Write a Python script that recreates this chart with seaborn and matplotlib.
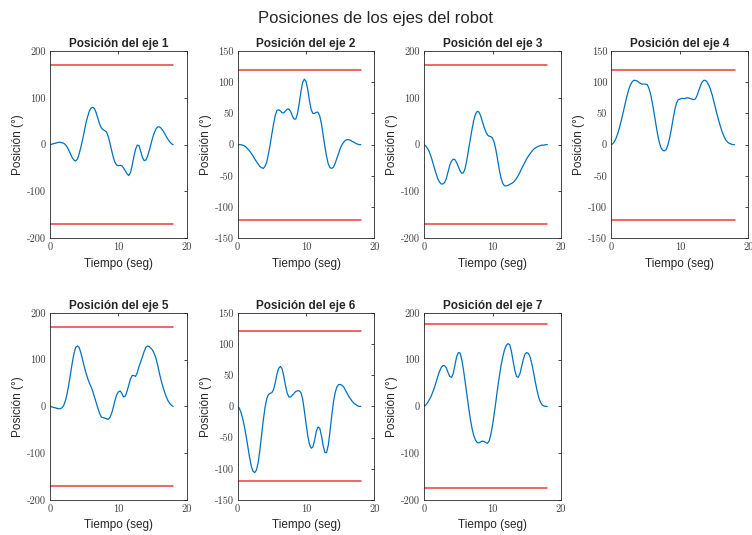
import numpy as np
import pandas as pd
import seaborn as sns
import matplotlib.pyplot as plt

# Tiempo (seg), muestreado cada 0.25 s
tiempo = np.arange(0, 18.25, 0.25)

eje1 = [0, 1, 2, 3, 4, 5, 5, 4, 3, 0, -5, -12, -20, -28, -33, -35, -31, -20, -6, 10,
        28, 46, 60, 72, 78, 80, 77, 68, 56, 44, 36, 32, 30, 27, 18, 4, -12, -27, -38, -44,
        -45, -44, -45, -50, -56, -62, -66, -60, -45, -26, -10, -1, -2, -14, -27, -34,
        -33, -25, -13, 1, 15, 26, 34, 38, 38, 35, 30, 24, 17, 11, 6, 2, 0]
eje2 = [0, 0, 0, -1, -2, -4, -7, -10, -14, -18, -23, -27, -31, -35, -37, -38,
        -35, -28, -15, 0, 17, 33, 47, 55, 56, 54, 51, 51, 54, 57, 57, 53, 46, 41, 41, 50,
        66, 85, 100, 105, 101, 88, 70, 56, 50, 50, 52, 52, 46, 33, 15, -3,
        -19, -31, -37, -38, -36, -30, -22, -14, -6, 0, 4, 7, 8, 8, 7, 5, 4, 2, 1, 0, 0]
eje3 = [0, -3, -8, -15, -25, -37, -50, -62, -73, -80, -84, -84, -81, -72, -58, -44,
        -35, -31, -32, -38, -47, -56, -61, -60, -50, -32, -10, 12, 33, 52, 65, 71,
        70, 62, 50, 38, 28, 21, 18, 17, 14, 4, -12, -33, -55, -72, -83, -88,
        -88, -87, -85, -83, -81, -77, -72, -66, -59, -51, -44, -37, -30, -24, -19, -14,
        -10, -7, -5, -3, -2, -1, -1, 0, 0]
eje4 = [0, 2, 6, 12, 20, 30, 41, 53, 65, 77, 87, 95, 100, 103, 103, 102,
        100, 98, 97, 97, 97, 96, 90, 80, 66, 50, 33, 17, 4, -5, -9, -10,
        -8, -1, 10, 24, 40, 55, 66, 72, 73, 74, 74, 74, 75, 75, 74, 73,
        72, 73, 78, 86, 94, 100, 103, 103, 100, 95, 88, 79, 68, 57, 46, 36,
        27, 19, 12, 7, 4, 2, 1, 0, 0]
eje5 = [0, -1, -2, -3, -4, -5, -5, -3, 2, 12, 27, 47, 70, 93, 113, 126,
        129, 126, 115, 100, 85, 72, 60, 50, 42, 32, 20, 8, -4, -15, -23, -24,
        -25, -26, -28, -24, -15, -2, 13, 25, 31, 33, 28, 20, 22, 32, 45, 58,
        66, 66, 64, 72, 85, 95, 106, 117, 126, 129, 128, 124, 120, 112, 102, 87,
        70, 55, 42, 30, 20, 12, 6, 2, 0]
eje6 = [0, -3, -10, -20, -33, -48, -65, -82, -96, -104, -106, -102, -90, -70, -46, -22,
        -2, 12, 19, 21, 22, 27, 38, 52, 61, 64, 60, 48, 33, 21, 15, 15,
        18, 21, 24, 25, 25, 22, 12, -7, -28, -47, -61, -67, -65, -54, -40, -33,
        -35, -47, -63, -74, -74, -62, -40, -15, 7, 22, 31, 35, 35, 34, 31, 26,
        21, 16, 12, 8, 5, 3, 1, 0, 0]
eje7 = [0, 3, 8, 14, 21, 30, 40, 52, 64, 75, 83, 87, 87, 82, 72, 64,
        62, 70, 88, 106, 115, 114, 100, 78, 52, 25, -2, -27, -47, -62, -72, -77,
        -78, -76, -74, -75, -77, -79, -74, -60, -40, -15, 12, 40, 65, 88, 106, 121,
        130, 134, 132, 118, 97, 77, 64, 62, 70, 85, 101, 112, 115, 113, 105, 90,
        72, 52, 34, 19, 9, 3, 1, 0, 0]

posiciones = [eje1, eje2, eje3, eje4, eje5, eje6, eje7]
limites = [170, 120, 170, 120, 170, 120, 175]
rango_y = [200, 150, 200, 150, 200, 150, 200]
paso_y = [100, 50, 100, 50, 100, 50, 100]
t_limite = [0, 18]

sns.set_style("white")
plt.rcParams["font.family"] = ["Liberation Sans", "DejaVu Sans"]
plt.rcParams["axes.unicode_minus"] = False

fig = plt.figure(figsize=(7.52, 5.35), dpi=100)
lefts = [0.0665, 0.316, 0.564, 0.813]
bottoms = [0.5546, 0.0654]
w, h = 0.182, 0.35

for i in range(7):
    ax = fig.add_axes([lefts[i % 4], bottoms[i // 4], w, h])
    df = pd.DataFrame({"Tiempo": tiempo, "Posicion": posiciones[i]})
    sns.lineplot(data=df, x="Tiempo", y="Posicion", ax=ax, color="#0072BD", linewidth=0.9)
    lim = limites[i]
    df_lim = pd.DataFrame({"t": t_limite * 2,
                           "v": [lim, lim, -lim, -lim],
                           "g": ["sup", "sup", "inf", "inf"]})
    sns.lineplot(data=df_lim, x="t", y="v", units="g", estimator=None, ax=ax,
                 color="#EE3B3B", linewidth=1.1)
    ax.set_xlim(0, 20)
    ax.set_ylim(-rango_y[i], rango_y[i])
    ax.set_xticks([0, 10, 20])
    ax.set_yticks(np.arange(-rango_y[i], rango_y[i] + 1, paso_y[i]))
    ax.tick_params(direction="in", top=True, right=True, length=2.5, width=0.6,
                   colors="#262626", labelsize=7.5, pad=3)
    for lab in ax.get_xticklabels() + ax.get_yticklabels():
        lab.set_fontfamily("cmr10")
        lab.set_color("#404040")
    for s in ax.spines.values():
        s.set_color("#262626")
        s.set_linewidth(0.6)
    ax.set_title(f"Posición del eje {i + 1}", fontsize=8.5, fontweight="bold", pad=3)
    ax.set_xlabel("Tiempo (seg)", fontsize=8.5, color="#262626")
    ax.set_ylabel("Posición (°)", fontsize=8.5, color="#262626", labelpad=2)

fig.suptitle("Posiciones de los ejes del robot", fontsize=12, y=0.98)

plt.savefig("out.png", dpi=100)
